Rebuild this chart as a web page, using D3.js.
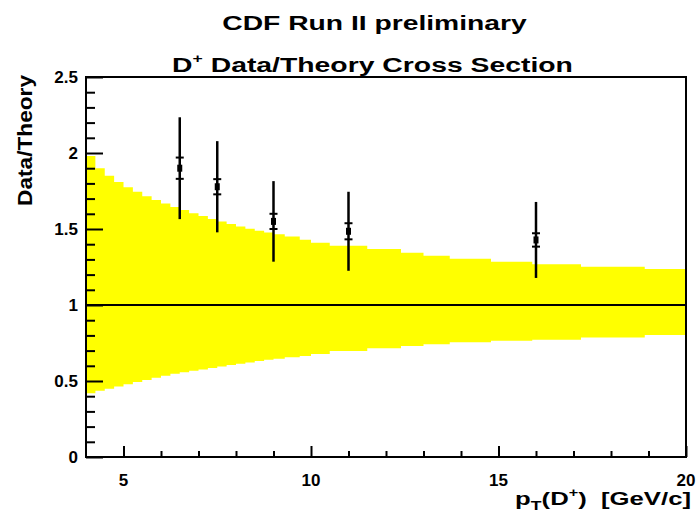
<!DOCTYPE html>
<html><head><meta charset="utf-8">
<script src="https://cdn.jsdelivr.net/npm/d3@7"></script>
<style>
html,body{margin:0;padding:0;background:#fff;}
text{font-family:"Liberation Sans",Arial,Helvetica,sans-serif;font-weight:bold;fill:#000;}
</style></head>
<body><svg id="c" width="696" height="512"></svg>
<script>
// ---- data ----
const titleLines = ["CDF Run II preliminary", "D Data/Theory Cross Section"];
const xTicks = [5, 10, 15, 20];
const yTicks = [0, 0.5, 1, 1.5, 2, 2.5];
const yTickLabels = ["0", "0.5", "1", "1.5", "2", "2.5"];
// theory uncertainty band (bin edges in GeV/c, upper / lower ratio)
const bandEdges = [4.0,4.25,4.5,4.75,5.0,5.25,5.5,5.75,6.0,6.25,6.5,6.75,7.0,7.25,7.5,7.75,8.0,8.25,8.5,8.75,9.0,9.3,9.7,10.0,10.5,11.5,12.4,13.0,13.7,14.8,15.9,17.2,18.9,20.0];
const bandUpper = [1.98,1.90,1.85,1.81,1.775,1.745,1.715,1.69,1.668,1.645,1.625,1.603,1.585,1.566,1.549,1.533,1.517,1.502,1.489,1.477,1.465,1.45,1.43,1.41,1.39,1.368,1.344,1.324,1.305,1.285,1.268,1.252,1.237];
const bandLower = [0.42,0.436,0.449,0.463,0.478,0.493,0.507,0.522,0.534,0.547,0.557,0.567,0.576,0.586,0.596,0.605,0.614,0.622,0.632,0.640,0.646,0.656,0.665,0.678,0.697,0.715,0.73,0.741,0.755,0.765,0.772,0.787,0.803];
// data points
const ptValues = [6.5, 7.5, 9, 11, 16];
const ratioValues = [1.90, 1.778, 1.55, 1.485, 1.428];
const statErrors = [0.07, 0.05, 0.05, 0.053, 0.044];
const totalErrors = [0.335, 0.30, 0.265, 0.26, 0.25];

// ---- layout ----
const svg = d3.select("#c");
const L = 86, R = 686, T = 77, B = 457;
const x = d3.scaleLinear().domain([4, 20]).range([L, R]);
const y = d3.scaleLinear().domain([0, 2.5]).range([B, T]);

// stretch a text horizontally (about its anchor point) to a target width
function stretch(sel, target, base) {
  const w = sel.node().getBBox().width;
  sel.attr("transform", `${base} scale(${target / w},1)`);
}

// band
const bandData = bandEdges.map((e, i) => ({x: e, hi: bandUpper[Math.min(i, bandUpper.length - 1)], lo: bandLower[Math.min(i, bandLower.length - 1)]}));
svg.append("path").datum(bandData)
  .attr("d", d3.area().curve(d3.curveStepAfter).x(d => x(d.x)).y0(d => y(d.lo)).y1(d => y(d.hi)))
  .attr("fill", "#ffff00").attr("stroke", "none");

// line at 1
svg.append("line").attr("x1", x(4)).attr("x2", x(20)).attr("y1", y(1)).attr("y2", y(1))
  .attr("stroke", "#000").attr("stroke-width", 2);

// error bars
const g = svg.append("g");
ptValues.forEach((p, i) => {
  const cx = x(p), v = ratioValues[i];
  g.append("line").attr("x1", cx).attr("x2", cx)
    .attr("y1", y(v + totalErrors[i])).attr("y2", y(v - totalErrors[i]))
    .attr("stroke", "#000").attr("stroke-width", 2.5);
  [v + statErrors[i], v - statErrors[i]].forEach(s => {
    g.append("line").attr("x1", cx - 4).attr("x2", cx + 4).attr("y1", y(s)).attr("y2", y(s))
      .attr("stroke", "#000").attr("stroke-width", 2);
  });
  g.append("rect").attr("x", cx - 2.5).attr("y", y(v) - 3.5).attr("width", 5).attr("height", 7).attr("fill", "#000");
});

// frame
svg.append("rect").attr("x", L).attr("y", T).attr("width", R - L).attr("height", B - T)
  .attr("fill", "none").attr("stroke", "#000").attr("stroke-width", 2);

// y axis ticks
const yAxis = d3.axisRight(y).tickValues(d3.range(0, 26).map(d => d / 10)).tickSize(0).tickFormat("");
const yg = svg.append("g").attr("transform", `translate(${L},0)`).call(yAxis);
yg.select(".domain").remove();
yg.selectAll(".tick line").attr("x2", d => (Math.abs(d * 2 - Math.round(d * 2)) < 1e-6 ? 17 : 9))
  .attr("stroke", "#000").attr("stroke-width", 2);
yTicks.forEach((t, i) => {
  svg.append("text").attr("x", 78).attr("y", y(t) + 6).attr("text-anchor", "end")
    .attr("font-size", 17).text(yTickLabels[i]);
});

// x axis ticks
const xAxis = d3.axisTop(x).tickValues(d3.range(5, 21)).tickSize(0).tickFormat("");
const xg = svg.append("g").attr("transform", `translate(0,${B})`).call(xAxis);
xg.select(".domain").remove();
xg.selectAll(".tick line").attr("y2", d => (d % 5 === 0 ? -11 : -6)).attr("stroke", "#000").attr("stroke-width", 2);
xTicks.forEach(t => {
  svg.append("text").attr("x", x(t)).attr("y", 486).attr("text-anchor", "middle")
    .attr("font-size", 17).text(t);
});

// titles
const t1 = svg.append("text").attr("x", 0).attr("y", 0).attr("text-anchor", "middle").attr("font-size", 21).text(titleLines[0]);
stretch(t1, 305, "translate(374.5,30)");
const t2 = svg.append("text").attr("x", 0).attr("y", 0).attr("text-anchor", "middle").attr("font-size", 21);
t2.append("tspan").text("D");
t2.append("tspan").attr("dy", -9).attr("font-size", 13).text("+");
t2.append("tspan").attr("dy", 9).text(" Data/Theory Cross Section");
stretch(t2, 401, "translate(372.5,72)");

// x title
const xt = svg.append("text").attr("x", 0).attr("y", 0).attr("text-anchor", "end").attr("font-size", 19);
xt.append("tspan").text("p");
xt.append("tspan").attr("dy", 5).attr("font-size", 13).text("T");
xt.append("tspan").attr("dy", -5).text("(D");
xt.append("tspan").attr("dy", -8).attr("font-size", 12).text("+");
xt.append("tspan").attr("dy", 8).text(")\u00a0\u00a0[GeV/c]");
stretch(xt, 176, "translate(691,505)");

// y title
const yt = svg.append("text").attr("x", 0).attr("y", 0).attr("text-anchor", "end")
  .attr("font-size", 20).text("Data/Theory");
stretch(yt, 132, `translate(32,${T - 2}) rotate(-90)`);
</script></body></html>
